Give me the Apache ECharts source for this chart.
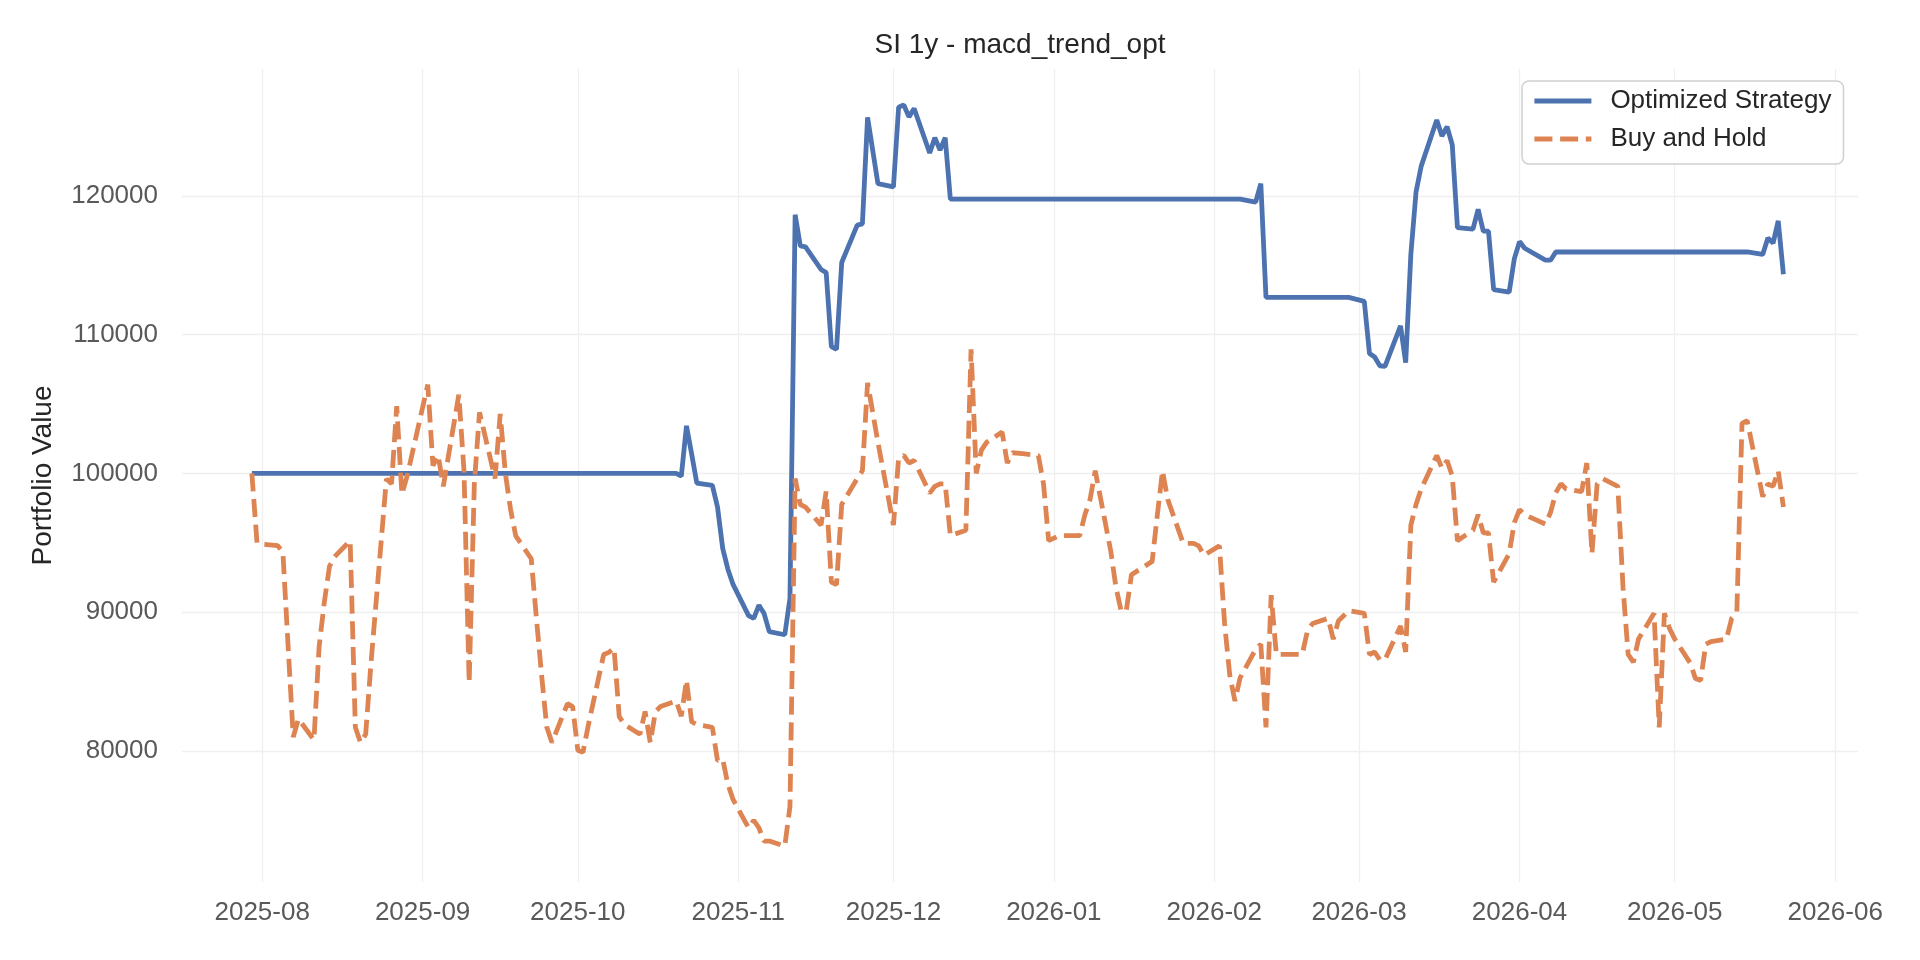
<!DOCTYPE html>
<html lang="en">
<head>
<meta charset="UTF-8">
<title>SI 1y - macd_trend_opt</title>
<style>
  html, body { margin: 0; padding: 0; background: #ffffff; }
  #main { width: 1920px; height: 960px; }
</style>
</head>
<body>
<div id="main"></div>
<script src="https://cdn.jsdelivr.net/npm/echarts@6/dist/echarts.min.js"></script>
<script>
// Buy and Hold, one row per month
var bhDates = [
  '2025-07-30','2025-07-31',
  '2025-08-01','2025-08-04','2025-08-05','2025-08-06','2025-08-07','2025-08-08','2025-08-11','2025-08-12','2025-08-13','2025-08-14','2025-08-15','2025-08-18','2025-08-19','2025-08-20','2025-08-21','2025-08-22','2025-08-25','2025-08-26','2025-08-27','2025-08-28','2025-08-29',
  '2025-09-02','2025-09-03','2025-09-04','2025-09-05','2025-09-08','2025-09-09','2025-09-10','2025-09-11','2025-09-12','2025-09-15','2025-09-16','2025-09-17','2025-09-18','2025-09-19','2025-09-22','2025-09-23','2025-09-24','2025-09-25','2025-09-26','2025-09-29','2025-09-30',
  '2025-10-01','2025-10-02','2025-10-03','2025-10-06','2025-10-07','2025-10-08','2025-10-09','2025-10-10','2025-10-13','2025-10-14','2025-10-15','2025-10-16','2025-10-17','2025-10-20','2025-10-21','2025-10-22','2025-10-23','2025-10-24','2025-10-27','2025-10-28','2025-10-29','2025-10-30','2025-10-31',
  '2025-11-03','2025-11-04','2025-11-05','2025-11-06','2025-11-07','2025-11-10','2025-11-11','2025-11-12','2025-11-13','2025-11-14','2025-11-17','2025-11-18','2025-11-19','2025-11-20','2025-11-21','2025-11-24','2025-11-25','2025-11-26','2025-11-28',
  '2025-12-01','2025-12-02','2025-12-03','2025-12-04','2025-12-05','2025-12-08','2025-12-09','2025-12-10','2025-12-11','2025-12-12','2025-12-15','2025-12-16','2025-12-17','2025-12-18','2025-12-19','2025-12-22','2025-12-23','2025-12-24','2025-12-26','2025-12-29','2025-12-30','2025-12-31',
  '2026-01-02','2026-01-05','2026-01-06','2026-01-07','2026-01-08','2026-01-09','2026-01-12','2026-01-13','2026-01-14','2026-01-15','2026-01-16','2026-01-20','2026-01-21','2026-01-22','2026-01-23','2026-01-26','2026-01-27','2026-01-28','2026-01-29','2026-01-30',
  '2026-02-02','2026-02-03','2026-02-04','2026-02-05','2026-02-06','2026-02-09','2026-02-10','2026-02-11','2026-02-12','2026-02-13','2026-02-17','2026-02-18','2026-02-19','2026-02-20','2026-02-23','2026-02-24','2026-02-25','2026-02-26','2026-02-27',
  '2026-03-02','2026-03-03','2026-03-04','2026-03-05','2026-03-06','2026-03-09','2026-03-10','2026-03-11','2026-03-12','2026-03-13','2026-03-16','2026-03-17','2026-03-18','2026-03-19','2026-03-20','2026-03-23','2026-03-24','2026-03-25','2026-03-26','2026-03-27','2026-03-30','2026-03-31',
  '2026-04-01','2026-04-02','2026-04-06','2026-04-07','2026-04-08','2026-04-09','2026-04-10','2026-04-13','2026-04-14','2026-04-15','2026-04-16','2026-04-17','2026-04-20','2026-04-21','2026-04-22','2026-04-23','2026-04-24','2026-04-27','2026-04-28','2026-04-29','2026-04-30',
  '2026-05-01','2026-05-04','2026-05-05','2026-05-06','2026-05-07','2026-05-08','2026-05-11','2026-05-12','2026-05-13','2026-05-14','2026-05-15','2026-05-18','2026-05-19','2026-05-20','2026-05-21','2026-05-22'
];
var bhValues = [
  100000,95000,
  94900,94800,94300,87600,81000,82300,80800,87500,90700,93300,94000,95150,81700,80600,81200,86200,99600,99250,104850,98500,99800,
  106400,100560,101300,99070,105670,100190,84900,99250,104400,99630,104290,100000,97400,95500,93850,89550,85450,81700,80600,83400,83200,
  80050,79900,81800,86950,87100,87400,82470,81900,81200,82840,80600,82840,83200,83600,82500,85100,82100,81900,81700,79300,79400,77600,76500,
  74450,75000,74450,73500,73500,73140,76000,99630,97760,97570,96270,98700,92170,91980,97760,99630,100190,106530,102240,
  96270,101120,101300,100750,100930,98580,99070,99250,99250,95520,95900,108950,100000,101680,102240,102980,100750,101490,101420,101300,99250,95150,
  95520,95520,95520,97020,98130,100190,94400,91800,90100,90100,92700,93660,97000,100190,98130,94960,94960,94960,94780,94100,
  94780,89180,85450,83600,85270,87320,87700,81700,91230,86950,86950,86950,88620,89180,89550,88060,89370,89740,90110,
  89920,86950,87130,86570,86570,89000,87130,96270,97760,98880,101300,100370,100930,99810,95150,95900,97020,95710,95710,92170,94220,96460,
  97390,97020,96350,97200,98600,99250,98880,98690,100750,94220,99250,99630,99070,91800,86950,86400,88060,89920,81700,89920,88810,
  88060,86330,85220,85080,87690,87880,88060,89550,90000,103610,103800,98320,99250,99070,100190,97580
];

// Optimized Strategy (flat stretches only keep their end points)
var stratDates = [
  '2025-07-30','2025-10-20',
  '2025-10-21','2025-10-22','2025-10-23','2025-10-24','2025-10-27','2025-10-28','2025-10-29','2025-10-30','2025-10-31',
  '2025-11-03','2025-11-04','2025-11-05','2025-11-06','2025-11-07','2025-11-10','2025-11-11','2025-11-12','2025-11-13','2025-11-14','2025-11-17','2025-11-18','2025-11-19','2025-11-20','2025-11-21','2025-11-24','2025-11-25','2025-11-26','2025-11-28',
  '2025-12-01','2025-12-02','2025-12-03','2025-12-04','2025-12-05','2025-12-08','2025-12-09','2025-12-10','2025-12-11','2025-12-12',
  '2026-02-06','2026-02-09','2026-02-10','2026-02-11','2026-02-27',
  '2026-03-02','2026-03-03','2026-03-04','2026-03-05','2026-03-06','2026-03-09','2026-03-10','2026-03-11','2026-03-12','2026-03-13','2026-03-16','2026-03-17','2026-03-18','2026-03-19','2026-03-20','2026-03-23','2026-03-24','2026-03-25','2026-03-26','2026-03-27','2026-03-30','2026-03-31',
  '2026-04-01','2026-04-02','2026-04-06','2026-04-07','2026-04-08',
  '2026-05-15','2026-05-18','2026-05-19','2026-05-20','2026-05-21','2026-05-22'
];
var stratValues = [
  100000,100000,
  99800,103430,101400,99300,99140,97570,94600,93100,92000,
  89750,89550,90500,89900,88600,88370,91000,118650,116400,116330,114700,114470,109140,108950,115200,117900,117980,125660,120890,
  120660,126400,126560,125700,126300,123100,124200,123300,124200,119770,
  119770,119550,120890,112690,112690,
  112400,108650,108390,107760,107720,110640,107980,115800,120290,122150,125480,124320,124990,123690,117720,117610,119030,117460,117460,113250,113060,115480,
  116710,116230,115370,115370,115960,
  115960,115780,116970,116600,118200,114360
];

var monthTicks = ['2025-08-01','2025-09-01','2025-10-01','2025-11-01','2025-12-01','2026-01-01','2026-02-01','2026-03-01','2026-04-01','2026-05-01','2026-06-01'];
var valueTicks = [80000, 90000, 100000, 110000, 120000];

function toTime(s) {
  var p = s.split('-');
  return new Date(+p[0], +p[1] - 1, +p[2]).getTime();
}
function pairs(dates, values) {
  return dates.map(function (d, i) { return [toTime(d), values[i]]; });
}

var FONT = "'Liberation Sans', Arial, sans-serif";
var LINE_W = 4.8;
var chart = echarts.init(document.getElementById('main'), null, { renderer: 'canvas' });

var option = {
  animation: false,
  backgroundColor: '#ffffff',
  title: {
    text: 'SI 1y - macd_trend_opt',
    left: 1020,
    textAlign: 'center',
    top: 31,
    padding: 0,
    textStyle: { fontFamily: FONT, fontSize: 28, fontWeight: 'normal', color: '#262626' }
  },
  legend: {
    orient: 'vertical',
    left: 1522,
    top: 81,
    padding: [5, 12, 10, 10],
    itemWidth: 57,
    itemHeight: 14,
    itemGap: 8,
    selectedMode: false,
    backgroundColor: 'rgba(255,255,255,0.8)',
    borderColor: '#d0d0d0',
    borderWidth: 1.5,
    borderRadius: 7,
    // hide the marker dot, keep only the line sample
    itemStyle: { opacity: 0 },
    lineStyle: { width: LINE_W },
    textStyle: { fontFamily: FONT, fontSize: 26, color: '#262626', lineHeight: 30, padding: [0, 0, 0, 14] },
    data: ['Optimized Strategy', 'Buy and Hold']
  },
  grid: { left: 182, right: 62, top: 69, bottom: 78, containLabel: false },
  // dates are plotted as timestamps on a value axis so month ticks can be placed exactly
  xAxis: {
    type: 'value',
    min: new Date(2025, 6, 16, 12).getTime(),
    max: new Date(2026, 5, 5, 10).getTime(),
    axisLine: { show: false },
    axisTick: { show: false, customValues: monthTicks.map(toTime) },
    axisLabel: {
      customValues: monthTicks.map(toTime),
      margin: 18,
      fontFamily: FONT,
      fontSize: 26,
      color: '#595959',
      formatter: function (v) {
        var d = new Date(v);
        return d.getFullYear() + '-' + String(d.getMonth() + 1).padStart(2, '0');
      }
    },
    splitLine: { show: true, lineStyle: { color: '#efefef', width: 1.3 } }
  },
  yAxis: {
    type: 'value',
    min: 70550,
    max: 129150,
    name: 'Portfolio Value',
    nameLocation: 'middle',
    nameGap: 125,
    nameTextStyle: { fontFamily: FONT, fontSize: 28, color: '#262626' },
    axisLine: { show: false },
    axisTick: { show: false, customValues: valueTicks },
    axisLabel: {
      customValues: valueTicks,
      margin: 24,
      fontFamily: FONT,
      fontSize: 26,
      color: '#595959',
      formatter: function (v) { return String(v); }
    },
    splitLine: { show: true, lineStyle: { color: '#efefef', width: 1.3 } }
  },
  series: [
    {
      name: 'Optimized Strategy',
      type: 'line',
      symbol: 'none',
      color: '#4c72b0',
      lineStyle: { width: LINE_W, color: '#4c72b0' },
      data: pairs(stratDates, stratValues)
    },
    {
      name: 'Buy and Hold',
      type: 'line',
      symbol: 'none',
      color: '#dd8452',
      lineStyle: { width: LINE_W, color: '#dd8452', type: [18, 7.7] },
      data: pairs(bhDates, bhValues)
    }
  ]
};
chart.setOption(option);
</script>
</body>
</html>
